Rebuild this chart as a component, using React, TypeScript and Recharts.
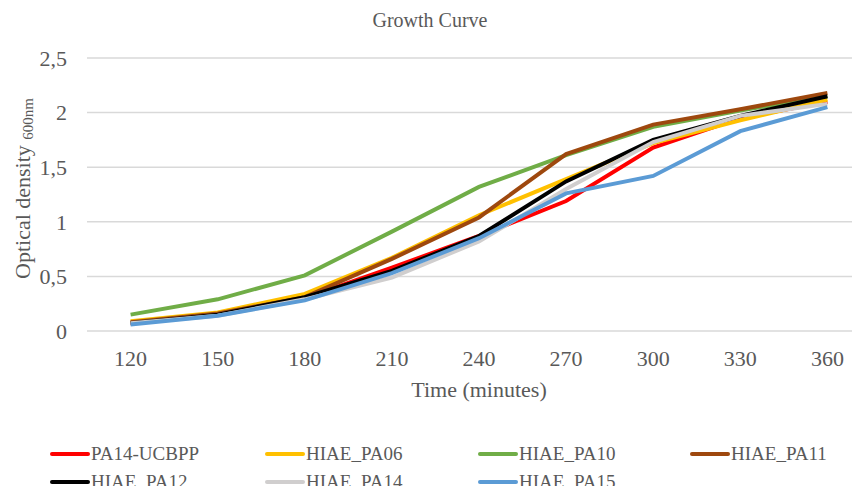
import React from "react";
import { LineChart, Line, XAxis, YAxis, CartesianGrid, Label } from "recharts";

const times = ["120", "150", "180", "210", "240", "270", "300", "330", "360"];
const yTicks = [0, 0.5, 1, 1.5, 2, 2.5];

const pa14Ucbpp = [0.07, 0.15, 0.3, 0.58, 0.87, 1.19, 1.68, 1.95, 2.1];
const pa06 = [0.09, 0.17, 0.34, 0.67, 1.06, 1.39, 1.72, 1.93, 2.12];
const pa10 = [0.15, 0.29, 0.51, 0.91, 1.32, 1.61, 1.87, 2.02, 2.15];
const pa11 = [0.08, 0.16, 0.31, 0.66, 1.04, 1.62, 1.89, 2.03, 2.18];
const pa12 = [0.07, 0.15, 0.31, 0.55, 0.87, 1.37, 1.75, 1.97, 2.15];
const pa14 = [0.07, 0.14, 0.29, 0.49, 0.82, 1.3, 1.73, 1.97, 2.08];
const pa15 = [0.06, 0.14, 0.28, 0.53, 0.85, 1.26, 1.42, 1.83, 2.05];

const series = [
  { key: "pa14Ucbpp", name: "PA14-UCBPP", color: "#FF0000", values: pa14Ucbpp },
  { key: "pa06", name: "HIAE_PA06", color: "#FFC000", values: pa06 },
  { key: "pa10", name: "HIAE_PA10", color: "#70AD47", values: pa10 },
  { key: "pa11", name: "HIAE_PA11", color: "#9E480E", values: pa11 },
  { key: "pa12", name: "HIAE_PA12", color: "#000000", values: pa12 },
  { key: "pa14", name: "HIAE_PA14", color: "#D0CECE", values: pa14 },
  { key: "pa15", name: "HIAE_PA15", color: "#5B9BD5", values: pa15 },
];

const data = times.map((t, i) => {
  const row: Record<string, string | number> = { time: t };
  series.forEach((s) => (row[s.key] = s.values[i]));
  return row;
});

const FONT = '"Liberation Serif", "Times New Roman", serif';
const TXT = "#595959";

const legendCols = [50, 265, 478, 690];
const legendRows = [443, 471];

export default function App() {
  return (
    <div style={{ margin: -8, width: 860, height: 494, overflow: "hidden", position: "relative", background: "#fff" }}>
      <div
        style={{
          position: "absolute",
          top: 8,
          left: 0,
          width: 860,
          textAlign: "center",
          fontFamily: FONT,
          fontSize: 20,
          color: TXT,
          lineHeight: "24px",
        }}
      >
        Growth Curve
      </div>
      <LineChart width={880} height={494} data={data} margin={{ top: 58, right: 9, bottom: 83, left: 0 }}>
        <CartesianGrid vertical={false} stroke="#d9d9d9" strokeWidth={1.5} />
        <XAxis
          dataKey="time"
          axisLine={false}
          tickLine={false}
          padding={{ left: 43.6, right: 43.6 }}
          height={80}
          tickMargin={13}
          tick={{ fill: TXT, fontSize: 22, fontFamily: FONT }}
        >
          <Label
            content={({ viewBox }: any) => (
              <text
                x={viewBox.x + viewBox.width / 2}
                y={viewBox.y + 66}
                textAnchor="middle"
                fill={TXT}
                fontSize={22}
                fontFamily={FONT}
              >
                Time (minutes)
              </text>
            )}
          />
        </XAxis>
        <YAxis
          width={87}
          domain={[0, 2.5]}
          ticks={yTicks}
          interval={0}
          axisLine={false}
          tickLine={false}
          tickMargin={14}
          tickFormatter={(v: number) => String(v).replace(".", ",")}
          tick={{ fill: TXT, fontSize: 22, fontFamily: FONT }}
        >
          <Label
            content={({ viewBox }: any) => {
              const cx = 30;
              const cy = viewBox.y + viewBox.height / 2 - 6;
              return (
                <text
                  x={cx}
                  y={cy}
                  transform={`rotate(-90, ${cx}, ${cy})`}
                  textAnchor="middle"
                  fill={TXT}
                  fontSize={22}
                  fontFamily={FONT}
                >
                  Optical density{" "}
                  <tspan fontSize={15} dy={3}>
                    600nm
                  </tspan>
                </text>
              );
            }}
          />
        </YAxis>
        {series.map((s) => (
          <Line
            key={s.key}
            type="linear"
            dataKey={s.key}
            name={s.name}
            stroke={s.color}
            strokeWidth={4}
            dot={false}
            activeDot={false}
            isAnimationActive={false}
          />
        ))}
      </LineChart>
      {/* legend drawn outside the svg so rows can sit freely */}
      {series.map((s, i) => (
        <div
          key={s.key}
          style={{
            position: "absolute",
            left: legendCols[i % 4],
            top: legendRows[Math.floor(i / 4)],
            display: "flex",
            alignItems: "center",
            fontFamily: FONT,
            fontSize: 19,
            lineHeight: "22px",
            color: TXT,
            whiteSpace: "nowrap",
          }}
        >
          <span
            style={{
              display: "inline-block",
              width: 40,
              height: 4,
              borderRadius: 2,
              background: s.color,
              marginRight: 1,
            }}
          />
          {s.name}
        </div>
      ))}
    </div>
  );
}
